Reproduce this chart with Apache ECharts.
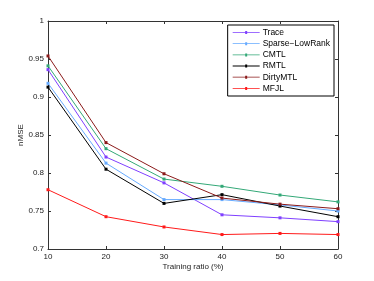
<!DOCTYPE html>
<html><head><meta charset="utf-8">
<script src="https://cdn.jsdelivr.net/npm/echarts@6/dist/echarts.min.js"></script>
<style>html,body{margin:0;padding:0;background:#fff}#c{width:374px;height:281px}</style>
</head><body><div id="c"></div>
<script>
const categories = [10, 20, 30, 40, 50, 60];
const seriesNames = ['Trace', 'Sparse\u2212LowRank', 'CMTL', 'RMTL', 'DirtyMTL', 'MFJL'];
const trace = [0.936, 0.821, 0.787, 0.745, 0.741, 0.736];
const sparseLowRank = [0.918, 0.813, 0.765, 0.765, 0.758, 0.750];
const cmtl = [0.941, 0.832, 0.792, 0.7825, 0.771, 0.762];
const rmtl = [0.913, 0.805, 0.760, 0.7715, 0.7565, 0.7425];
const dirtyMTL = [0.954, 0.840, 0.799, 0.767, 0.759, 0.753];
const mfjl = [0.778, 0.7425, 0.729, 0.719, 0.7205, 0.719];
const yTicks = [0.7, 0.75, 0.8, 0.85, 0.9, 0.95, 1];

const colors = ['#7f3fff', '#66aaff', '#33a877', '#000000', '#8b1a1a', '#ff1a1a'];
const values = [trace, sparseLowRank, cmtl, rmtl, dirtyMTL, mfjl];
const font = 'Liberation Sans, Arial, sans-serif';

const chart = echarts.init(document.getElementById('c'));
const axisLine = {show: true, lineStyle: {color: '#333', width: 1}};
chart.setOption({
  animation: false,
  grid: {left: 48, top: 21, width: 290, height: 228, containLabel: false},
  legend: {
    data: seriesNames,
    orient: 'vertical',
    right: 40, top: 25,
    backgroundColor: '#fff',
    borderColor: '#000', borderWidth: 1,
    padding: [3, 4, 3, 5],
    itemGap: 2.2,
    itemWidth: 27, itemHeight: 8.5,
    icon: 'path://M0,5 L27,5 L27,5.8 L0,5.8 Z M12.5,4 L14.5,4 L14.5,7 L12.5,7 Z',
    textStyle: {fontFamily: font, fontSize: 8.5, color: '#000', padding: [0,0,0,-2]}
  },
  xAxis: [{
    type: 'value', min: 10, max: 60, interval: 10,
    axisLine: axisLine,
    axisTick: {show: true, inside: true, length: 3, lineStyle: {color: '#333'}},
    axisLabel: {fontFamily: font, fontSize: 8, color: '#222', margin: 4},
    splitLine: {show: false},
    name: 'Training ratio (%)', nameLocation: 'middle', nameGap: 14, nameMoveOverlap: false,
    nameTextStyle: {fontFamily: font, fontSize: 8, color: '#222'}
  }, {
    type: 'value', min: 10, max: 60, interval: 10, position: 'top',
    axisLine: axisLine,
    axisTick: {show: true, inside: true, length: 3, lineStyle: {color: '#333'}},
    axisLabel: {show: false}, splitLine: {show: false}
  }],
  yAxis: [{
    type: 'value', min: 0.7, max: 1, interval: 0.05,
    axisLine: axisLine,
    axisTick: {show: true, inside: true, length: 3, lineStyle: {color: '#333'}},
    axisLabel: {fontFamily: font, fontSize: 8, color: '#222', margin: 4,
      formatter: v => { const r = Math.round(v*100)/100; return yTicks.includes(r) ? String(r) : ''; }},
    splitLine: {show: false},
    name: 'nMSE', nameLocation: 'middle', nameGap: 23, nameRotate: 90, nameMoveOverlap: false,
    nameTextStyle: {fontFamily: font, fontSize: 8, color: '#222'}
  }, {
    type: 'value', min: 0.7, max: 1, interval: 0.05, position: 'right',
    axisLine: axisLine,
    axisTick: {show: true, inside: true, length: 3, lineStyle: {color: '#333'}},
    axisLabel: {show: false}, splitLine: {show: false}
  }],
  series: seriesNames.map((n, i) => ({
    name: n, type: 'line',
    data: categories.map((c, j) => [c, values[i][j]]),
    color: colors[i],
    symbol: 'rect', symbolSize: 3,
    showSymbol: true,
    lineStyle: {width: 1, color: colors[i]},
    itemStyle: {color: colors[i]}
  }))
});
</script>
</body></html>
